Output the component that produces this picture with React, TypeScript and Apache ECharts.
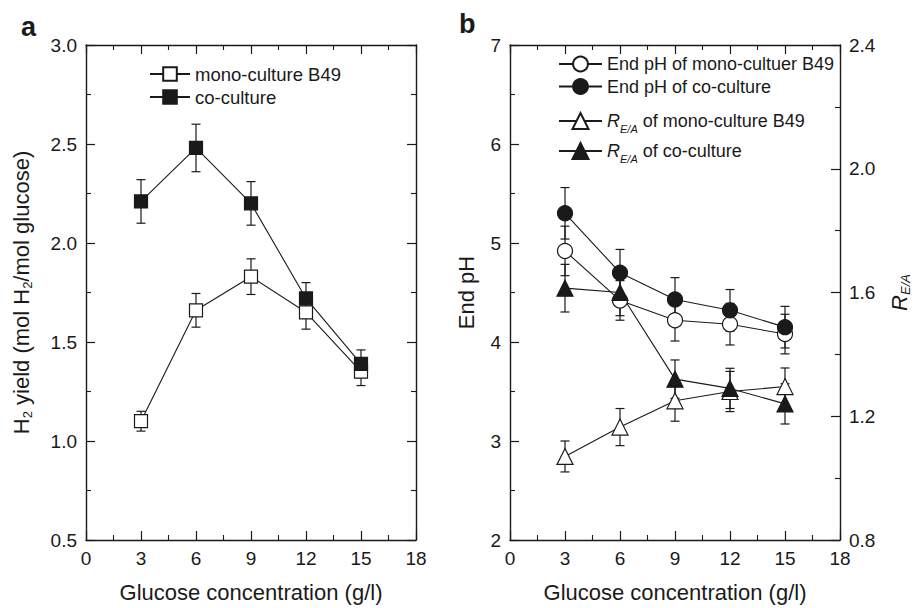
import React, { useEffect, useRef } from 'react';
import * as echarts from 'echarts';

// ---------- data ----------
const glucose = [3, 6, 9, 12, 15];

const h2Mono = [1.10, 1.66, 1.83, 1.65, 1.35];
const h2MonoErr = [0.05, 0.085, 0.09, 0.085, 0.07];
const h2Co = [2.21, 2.48, 2.20, 1.72, 1.39];
const h2CoErr = [0.11, 0.12, 0.11, 0.08, 0.07];

const phMono = [4.92, 4.42, 4.22, 4.18, 4.08];
const phMonoErr = [0.25, 0.2, 0.21, 0.21, 0.2];
const phCo = [5.30, 4.70, 4.43, 4.32, 4.15];
const phCoErr = [0.26, 0.235, 0.22, 0.21, 0.21];

const rMono = [1.07, 1.165, 1.25, 1.28, 1.296];
const rMonoErr = [0.05, 0.06, 0.066, 0.065, 0.06];
const rCo = [1.614, 1.60, 1.32, 1.29, 1.24];
const rCoErr = [0.077, 0.075, 0.062, 0.065, 0.065];

const nameMonoA = 'mono-culture B49';
const nameCoA = 'co-culture';
const namePhMono = 'End pH of mono-cultuer B49';
const namePhCo = 'End pH of co-culture';
const nameRMono = 'R of mono-culture B49';
const nameRCo = 'R of co-culture';

const FONT = '"Liberation Sans", Arial, Helvetica, sans-serif';
const INK = '#1a1a1a';

function errorSeries(name: string, xIdx: number, yIdx: number, vals: number[], errs: number[]) {
  return {
    type: 'custom',
    name,
    xAxisIndex: xIdx,
    yAxisIndex: yIdx,
    silent: true,
    z: 1,
    data: glucose.map((g, i) => [g, vals[i] - errs[i], vals[i] + errs[i]]),
    encode: { x: 0, y: [1, 2] },
    renderItem: (params: any, api: any) => {
      const lo = api.coord([api.value(0), api.value(1)]);
      const hi = api.coord([api.value(0), api.value(2)]);
      const w = 4.5;
      const style = { stroke: INK, lineWidth: 1.2, fill: 'none' };
      return {
        type: 'group',
        children: [
          { type: 'line', shape: { x1: lo[0], y1: lo[1], x2: hi[0], y2: hi[1] }, style },
          { type: 'line', shape: { x1: lo[0] - w, y1: lo[1], x2: lo[0] + w, y2: lo[1] }, style },
          { type: 'line', shape: { x1: hi[0] - w, y1: hi[1], x2: hi[0] + w, y2: hi[1] }, style },
        ],
      };
    },
  };
}

function lineSeries(name: string, xIdx: number, yIdx: number, vals: number[], symbol: string, size: number, filled: boolean) {
  return {
    type: 'line',
    name,
    xAxisIndex: xIdx,
    yAxisIndex: yIdx,
    z: 3,
    data: glucose.map((g, i) => [g, vals[i]]),
    symbol,
    symbolSize: size,
    showAllSymbol: true,
    lineStyle: { color: INK, width: 1.1 },
    itemStyle: { color: filled ? INK : '#ffffff', borderColor: INK, borderWidth: 1.2 },
    emphasis: { disabled: true },
  };
}

const axisLine = { show: true, onZero: false, lineStyle: { color: INK, width: 1.4 } };
const tickIn = { show: true, inside: true, length: 9, lineStyle: { color: INK, width: 1.2 } };
const minorIn = { show: true, splitNumber: 2, length: 5, lineStyle: { color: INK, width: 1.1 } };
const labelStyle = { color: INK, fontSize: 19, fontFamily: FONT, margin: 9 };

function xAxes(gridIndex: number) {
  const base = {
    type: 'value',
    gridIndex,
    min: 0,
    max: 18,
    interval: 3,
    axisLine,
    axisTick: tickIn,
    minorTick: minorIn,
    splitLine: { show: false },
  };
  return [
    {
      ...base,
      position: 'bottom',
      axisLabel: labelStyle,
      name: 'Glucose concentration (g/l)',
      nameLocation: 'middle',
      nameGap: 41,
      nameTextStyle: { color: INK, fontSize: 22, fontFamily: FONT },
    },
    { ...base, position: 'top', axisLabel: { show: false } },
  ];
}

const option: any = {
  animation: false,
  backgroundColor: '#ffffff',
  textStyle: { fontFamily: FONT },
  grid: [
    { left: 86, top: 45, width: 330, height: 499 },
    { left: 510, top: 45, width: 330, height: 499 },
  ],
  xAxis: [...xAxes(0), ...xAxes(1)],
  yAxis: [
    {
      type: 'value',
      gridIndex: 0,
      position: 'left',
      min: 0.5,
      max: 3.0,
      interval: 0.5,
      axisLine,
      axisTick: tickIn,
      minorTick: minorIn,
      splitLine: { show: false },
      axisLabel: { ...labelStyle, formatter: (v: number) => v.toFixed(1) },
      name: '{n|H}{s|2}{n| yield (mol H}{s|2}{n|/mol glucose)}',
      nameLocation: 'middle',
      nameRotate: 90,
      nameGap: 52,
      nameTextStyle: {
        color: INK,
        fontFamily: FONT,
        rich: {
          n: { fontSize: 22, fontFamily: FONT, color: INK, lineHeight: 26 },
          s: { fontSize: 13, fontFamily: FONT, color: INK, lineHeight: 12, verticalAlign: 'bottom' },
        },
      },
    },
    {
      type: 'value',
      gridIndex: 0,
      position: 'right',
      min: 0.5,
      max: 3.0,
      interval: 0.5,
      axisLine,
      axisTick: tickIn,
      minorTick: minorIn,
      splitLine: { show: false },
      axisLabel: { show: false },
    },
    {
      type: 'value',
      gridIndex: 1,
      position: 'left',
      min: 2,
      max: 7,
      interval: 1,
      axisLine,
      axisTick: tickIn,
      minorTick: minorIn,
      splitLine: { show: false },
      axisLabel: labelStyle,
      name: 'End pH',
      nameLocation: 'middle',
      nameRotate: 90,
      nameGap: 33,
      nameTextStyle: { color: INK, fontSize: 22, fontFamily: FONT },
    },
    {
      type: 'value',
      gridIndex: 1,
      position: 'right',
      min: 0.8,
      max: 2.4,
      interval: 0.4,
      axisLine,
      axisTick: tickIn,
      minorTick: minorIn,
      splitLine: { show: false },
      axisLabel: { ...labelStyle, formatter: (v: number) => v.toFixed(1) },
      name: '{i|R}{s|E/A}',
      nameLocation: 'middle',
      nameRotate: 90,
      nameGap: 46,
      nameTextStyle: {
        color: INK,
        fontFamily: FONT,
        rich: {
          i: { fontSize: 22, fontStyle: 'italic', fontFamily: FONT, color: INK, lineHeight: 26 },
          s: { fontSize: 13, fontStyle: 'italic', fontFamily: FONT, color: INK, lineHeight: 12, verticalAlign: 'bottom' },
        },
      },
    },
  ],
  legend: [
    {
      left: 144,
      top: 59,
      orient: 'vertical',
      itemWidth: 40,
      itemHeight: 17,
      itemGap: 3,
      selectedMode: false,
      data: [nameMonoA, nameCoA],
      textStyle: { color: INK, fontSize: 18.5, fontFamily: FONT, lineHeight: 20 },
    },
    {
      left: 553,
      top: 49,
      orient: 'vertical',
      itemWidth: 43,
      itemHeight: 18.5,
      itemGap: 2.5,
      selectedMode: false,
      data: [namePhMono, namePhCo],
      textStyle: { color: INK, fontSize: 18, fontFamily: FONT, lineHeight: 20 },
    },
    {
      left: 553,
      top: 107,
      orient: 'vertical',
      itemWidth: 43,
      itemHeight: 20,
      itemGap: 8,
      selectedMode: false,
      data: [nameRMono, nameRCo],
      formatter: (name: string) => `{i|R}{s|E/A}{t|${name.slice(1)}}`,
      textStyle: {
        color: INK,
        fontSize: 18,
        fontFamily: FONT,
        rich: {
          i: { fontSize: 18, fontStyle: 'italic', fontFamily: FONT, color: INK, lineHeight: 26 },
          s: { fontSize: 11, fontStyle: 'italic', fontFamily: FONT, color: INK, lineHeight: 10, verticalAlign: 'bottom' },
          t: { fontSize: 18, fontFamily: FONT, color: INK, lineHeight: 26 },
        },
      },
    },
  ],
  graphic: [
    { type: 'text', left: 21, top: 13, style: { text: 'a', fontSize: 27, fontWeight: 'bold', fontFamily: FONT, fill: INK } },
    { type: 'text', left: 459, top: 10, style: { text: 'b', fontSize: 27, fontWeight: 'bold', fontFamily: FONT, fill: INK } },
  ],
  series: [
    errorSeries('err-h2-mono', 0, 0, h2Mono, h2MonoErr),
    errorSeries('err-h2-co', 0, 0, h2Co, h2CoErr),
    lineSeries(nameMonoA, 0, 0, h2Mono, 'rect', 13, false),
    lineSeries(nameCoA, 0, 0, h2Co, 'rect', 13, true),

    errorSeries('err-ph-mono', 2, 2, phMono, phMonoErr),
    errorSeries('err-ph-co', 2, 2, phCo, phCoErr),
    errorSeries('err-r-mono', 2, 3, rMono, rMonoErr),
    errorSeries('err-r-co', 2, 3, rCo, rCoErr),
    lineSeries(namePhMono, 2, 2, phMono, 'circle', 15, false),
    lineSeries(namePhCo, 2, 2, phCo, 'circle', 15, true),
    lineSeries(nameRMono, 2, 3, rMono, 'triangle', 16, false),
    lineSeries(nameRCo, 2, 3, rCo, 'triangle', 16, true),
  ],
};

export default function App() {
  const ref = useRef<HTMLDivElement>(null);
  useEffect(() => {
    document.body.style.margin = '0';
    if (!ref.current) return;
    const chart = echarts.init(ref.current, undefined, { renderer: 'svg' });
    chart.setOption(option);
    return () => chart.dispose();
  }, []);
  return <div ref={ref} style={{ width: 917, height: 608 }} />;
}
